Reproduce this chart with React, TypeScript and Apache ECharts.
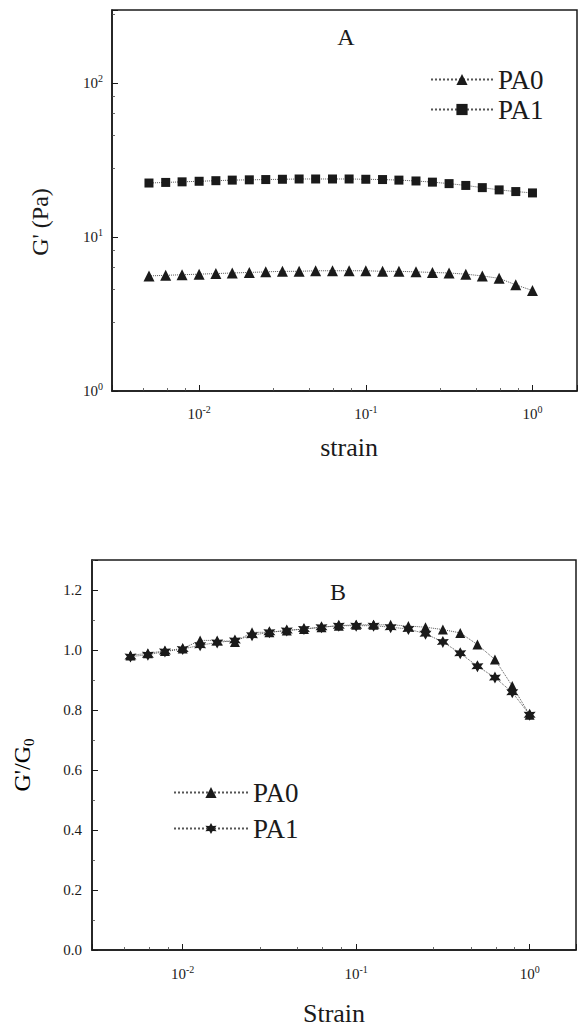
import React, { useEffect, useRef } from 'react';
import * as echarts from 'echarts';

// ---- data ----
const strain = [0.005, 0.0063, 0.0079, 0.01, 0.0126, 0.0158, 0.02, 0.0251, 0.0316, 0.0398, 0.05, 0.0631, 0.0794, 0.1, 0.126, 0.158, 0.2, 0.251, 0.316, 0.398, 0.5, 0.631, 0.794, 1.0];
const gPrimePA0 = [5.6, 5.65, 5.7, 5.75, 5.8, 5.85, 5.9, 5.95, 6.0, 6.0, 6.05, 6.05, 6.05, 6.05, 6.0, 6.0, 5.95, 5.9, 5.85, 5.75, 5.6, 5.4, 4.9, 4.5];
const gPrimePA1 = [22.5, 22.7, 22.9, 23.1, 23.3, 23.5, 23.6, 23.7, 23.8, 23.9, 23.9, 23.9, 23.9, 23.8, 23.7, 23.5, 23.2, 22.8, 22.3, 21.7, 21.0, 20.3, 19.8, 19.4];
const ratioPA0 = [0.982, 0.989, 0.997, 1.005, 1.032, 1.032, 1.027, 1.059, 1.059, 1.065, 1.07, 1.076, 1.081, 1.084, 1.084, 1.084, 1.08, 1.076, 1.068, 1.057, 1.018, 0.968, 0.88, 0.784];
const ratioPA1 = [0.978, 0.984, 0.995, 1.003, 1.016, 1.025, 1.032, 1.049, 1.059, 1.065, 1.07, 1.076, 1.081, 1.081, 1.081, 1.076, 1.07, 1.054, 1.027, 0.989, 0.946, 0.908, 0.859, 0.784];

const seriesNames = ['PA0', 'PA1'];

const serif = '"Liberation Serif", "DejaVu Serif", serif';
const ink = '#1a1a1a';
const starPath = 'path://M0,-10 L2.6,-4.5 L8.7,-5 L5.2,0 L8.7,5 L2.6,4.5 L0,10 L-2.6,4.5 L-8.7,5 L-5.2,0 L-8.7,-5 L-2.6,-4.5 Z';

function pow10Label(v: number) {
  const e = Math.log10(v);
  const r = Math.round(e);
  if (Math.abs(e - r) > 1e-6) return '';
  return `{b|10}{s|${r}}`;
}

const powRich = {
  b: { fontFamily: serif, fontSize: 15, color: '#1a1a1a', lineHeight: 19 },
  s: { fontFamily: serif, fontSize: 10, color: '#1a1a1a', lineHeight: 11, verticalAlign: 'top' },
};

export default function App() {
  const ref = useRef<HTMLDivElement>(null);
  useEffect(() => {
    document.body.style.margin = '0';
    const chart = echarts.init(ref.current!, null, { renderer: 'svg' });
    const axisLine = { show: true, lineStyle: { color: ink, width: 1.5 } };
    const tick = { show: true, inside: true, length: 6, lineStyle: { color: ink, width: 1 } };
    const minor = { show: true, splitNumber: 5, length: 3, lineStyle: { color: '#444', width: 0.8 } };
    const lineStyle = { type: 'dotted', width: 1, color: '#555' };
    const titleText = (text: string, x: number, y: number, size: number) => ({
      type: 'text', x, y,
      style: { text, font: `${size}px ${serif}`, fill: '#1a1a1a', align: 'center', verticalAlign: 'middle' },
    });
    chart.setOption({
      animation: false,
      backgroundColor: '#fff',
      grid: [
        { left: 112, top: 10, width: 465, height: 381, show: true, borderColor: ink, borderWidth: 1.5, backgroundColor: 'transparent' },
        { left: 92, top: 560, width: 484, height: 390, show: true, borderColor: ink, borderWidth: 1.5, backgroundColor: 'transparent' },
      ],
      xAxis: [
        {
          type: 'log', gridIndex: 0, min: 0.003, max: 1.85, logBase: 10,
          axisLine, axisTick: tick, minorTick: minor, splitLine: { show: false },
          axisLabel: { formatter: pow10Label, rich: powRich, margin: 13 },
        },
        {
          type: 'log', gridIndex: 1, min: 0.003, max: 1.85, logBase: 10,
          axisLine, axisTick: tick, minorTick: minor, splitLine: { show: false },
          axisLabel: { formatter: pow10Label, rich: powRich, margin: 14 },
        },
      ],
      yAxis: [
        {
          type: 'log', gridIndex: 0, min: 1, max: 300, logBase: 10,
          axisLine, axisTick: tick, minorTick: minor, splitLine: { show: false },
          axisLabel: { formatter: pow10Label, rich: powRich, margin: 9 },
        },
        {
          type: 'value', gridIndex: 1, min: 0, max: 1.3, interval: 0.2,
          axisLine, axisTick: tick, minorTick: { ...minor, splitNumber: 2 }, splitLine: { show: false },
          axisLabel: {
            fontFamily: serif, fontSize: 15, color: '#1a1a1a', margin: 10,
            formatter: (v: number) => (Math.abs(v / 0.2 - Math.round(v / 0.2)) < 1e-6 ? v.toFixed(1) : ''),
          },
        },
      ],
      legend: [
        {
          data: seriesNames, orient: 'vertical', left: 425, top: 61, itemWidth: 62, itemHeight: 14, itemGap: 3,
          selectedMode: false, textStyle: { fontFamily: serif, fontSize: 27, color: '#1a1a1a' },
        },
        {
          data: seriesNames.map((n) => n + ' '), orient: 'vertical', left: 168, top: 774, itemWidth: 74, itemHeight: 14, itemGap: 9,
          selectedMode: false, textStyle: { fontFamily: serif, fontSize: 27, color: '#1a1a1a' },
          formatter: (n: string) => n.trim(),
        },
      ],
      series: [
        {
          name: seriesNames[0], type: 'line', xAxisIndex: 0, yAxisIndex: 0,
          data: strain.map((x, i) => [x, gPrimePA0[i]]),
          symbol: 'triangle', symbolSize: 11, itemStyle: { color: ink }, lineStyle,
        },
        {
          name: seriesNames[1], type: 'line', xAxisIndex: 0, yAxisIndex: 0,
          data: strain.map((x, i) => [x, gPrimePA1[i]]),
          symbol: 'rect', symbolSize: 9, itemStyle: { color: ink }, lineStyle,
        },
        {
          name: seriesNames[0] + ' ', type: 'line', xAxisIndex: 1, yAxisIndex: 1,
          data: strain.map((x, i) => [x, ratioPA0[i]]),
          symbol: 'triangle', symbolSize: 10, itemStyle: { color: ink }, lineStyle,
        },
        {
          name: seriesNames[1] + ' ', type: 'line', xAxisIndex: 1, yAxisIndex: 1,
          data: strain.map((x, i) => [x, ratioPA1[i]]),
          symbol: starPath, symbolSize: 12, itemStyle: { color: ink }, lineStyle,
        },
      ],
      graphic: [
        titleText('A', 346, 37, 24),
        titleText('B', 338, 592, 24),
        titleText('strain', 349, 447, 26),
        titleText('Strain', 334, 1013, 26),
        { ...titleText("G' (Pa)", 40, 222, 24), rotation: Math.PI / 2 },
        {
          type: 'text', x: 22, y: 765, rotation: Math.PI / 2,
          style: {
            text: "{a|G'/G}{s|0}", align: 'center', verticalAlign: 'middle',
            rich: {
              a: { fontFamily: serif, fontSize: 24, color: '#1a1a1a', lineHeight: 28 },
              s: { fontFamily: serif, fontSize: 15, color: '#1a1a1a', lineHeight: 15, verticalAlign: 'bottom' },
            },
          },
        },
      ],
    });
    return () => chart.dispose();
  }, []);
  return <div ref={ref} style={{ width: 583, height: 1031 }} />;
}
